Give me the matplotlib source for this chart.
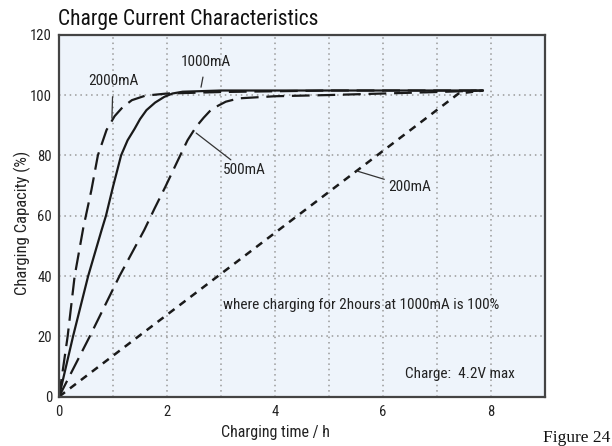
import matplotlib
matplotlib.use("Agg")
import matplotlib.pyplot as plt

# values (hours, % capacity)
t_2000 = [0, 0.16, 0.29, 0.45, 0.6, 0.72, 0.88, 1.03, 1.18, 1.35, 1.6, 2.0, 3.0, 5.0, 7.85]
c_2000 = [0, 20, 40, 56, 68.5, 80, 88.4, 93, 96, 98.3, 99.8, 100.5, 101, 101.5, 101.5]

t_1000 = [0, 0.26, 0.54, 0.79, 0.87, 1.0, 1.15, 1.27, 1.40, 1.5, 1.62, 1.78, 1.95, 2.1, 2.29, 3.0, 5.0, 7.85]
c_1000 = [0, 20, 40, 55.3, 60, 69.6, 80, 85, 88.8, 92, 95, 97.5, 99.4, 100.5, 101.1, 101.5, 101.5, 101.5]

t_500 = [0, 0.57, 1.12, 1.58, 1.77, 1.97, 2.2, 2.38, 2.54, 2.68, 2.81, 2.95, 3.09, 3.33, 4.0, 5.0, 6.0, 7.0, 7.85]
c_500 = [0, 20, 40, 55.3, 62.4, 69.6, 78.3, 85, 89.5, 92.5, 95, 96.5, 97.8, 98.9, 99.6, 100, 100.5, 101, 101.5]

t_200 = [0, 7.4, 7.85]
c_200 = [0, 100.5, 101.5]

xticks = [0, 2, 4, 6, 8]
yticks = [0, 20, 40, 60, 80, 100, 120]

plt.rcParams['font.family'] = ['Roboto Condensed', 'Liberation Sans', 'DejaVu Sans']

fig = plt.figure(figsize=(6.12, 4.46), dpi=100)
ax = fig.add_axes([59 / 612, 1 - 396.7 / 446, 486 / 612, 362 / 446])
ax.set_facecolor('#eef4fb')

ink = '#1a1a1a'
ax.plot(t_2000, c_2000, color=ink, lw=1.6, dashes=(8, 3.5))
ax.plot(t_1000, c_1000, color=ink, lw=1.6)
ax.plot(t_500, c_500, color=ink, lw=1.6, dashes=(8, 3.5))
ax.plot(t_200, c_200, color=ink, lw=1.8, dashes=(3, 2.5))

ax.set_xlim(0, 9)
ax.set_ylim(0, 120)
ax.set_xticks(xticks)
ax.set_yticks(yticks)
ax.tick_params(length=0)
ax.tick_params(axis='x', pad=6, labelsize=10.5, colors='#222')
ax.tick_params(axis='y', pad=5, labelsize=10.5, colors='#222')

for xv in range(1, 9):
    ax.axvline(xv, color='#999999', lw=1.1, dashes=(1, 2.5), zorder=0)
for yv in yticks[1:-1]:
    ax.axhline(yv, color='#999999', lw=1.1, dashes=(1, 2.5), zorder=0)

for s in ax.spines.values():
    s.set_color('#444444')
    s.set_linewidth(1.6)

ax.set_xlabel('Charging time / h', fontsize=11.5, color='#222')
ax.xaxis.set_label_coords(4 / 9, -0.078)
ax.set_ylabel('Charging Capacity (%)', fontsize=12, color='#222')
ax.yaxis.set_label_coords(-0.058, 0.48)

# curve labels with leader lines
lab = dict(fontsize=11, color='#222')
lead = dict(arrowstyle='-', color='#333', lw=0.9, shrinkB=0)
ax.annotate('2000mA', xy=(0.98, 92.3), xytext=(1.0, 104.5), ha='center', va='center',
            arrowprops=dict(shrinkA=4, **lead), **lab)
ax.annotate('1000mA', xy=(2.63, 102.6), xytext=(2.72, 111), ha='center', va='center',
            arrowprops=dict(shrinkA=4, **lead), **lab)
ax.annotate('500mA', xy=(2.54, 87.4), xytext=(3.04, 75), ha='left', va='center',
            arrowprops=dict(shrinkA=1, **lead), **lab)
ax.annotate('200mA', xy=(5.52, 74.8), xytext=(6.1, 69.5), ha='left', va='center',
            arrowprops=dict(shrinkA=1, **lead), **lab)

ax.text(3.03, 30.4, 'where charging for 2hours at 1000mA is 100%', ha='left', va='center', **lab)
ax.text(6.4, 7.4, 'Charge:  4.2V max', ha='left', va='center', **lab)

fig.text(58 / 612, 1 - 19 / 446, 'Charge Current Characteristics', ha='left', va='center',
         fontsize=15.5, color='#111')
fig.text(543 / 612, 1 - 438 / 446, 'Figure 24', ha='left', va='center',
         fontsize=12.5, family=['Liberation Serif', 'DejaVu Serif'], color='#111')

fig.savefig('out.png', dpi=100)
